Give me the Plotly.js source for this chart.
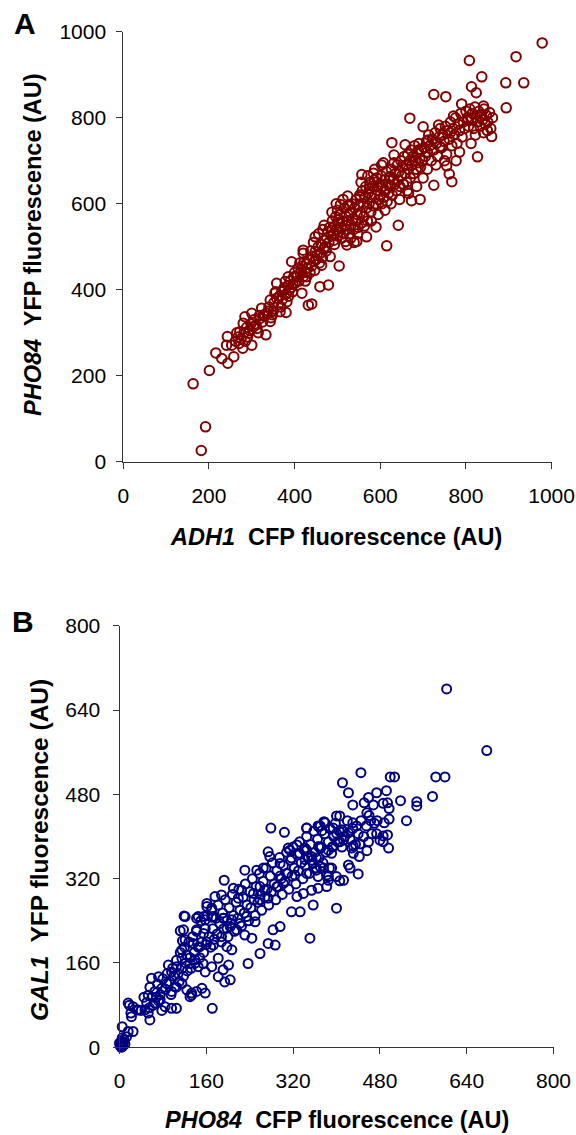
<!DOCTYPE html>
<html>
<head>
<meta charset="utf-8">
<script src="https://cdn.plot.ly/plotly-3.0.1.min.js"></script>
<style>html,body{margin:0;padding:0;background:#fff;}#chart{width:576px;height:1135px;}</style>
</head>
<body>
<div id="chart"></div>
<script>
// Panel A: ADH1 CFP (x) vs PHO84 YFP (y) (AU)
const panelA_points = [
[163,181],[201,212],[192,81],[182,26],[216,253],[230,240],[244,229],[258,244],[243,291],[241,271],[253,271],[272,302],[279,264],[284,337],[300,271],[292,299],[304,314],[319,333],[333,295],[327,341],[323,357],[343,326],[343,376],[354,392],[366,349],[380,347],[358,415],[378,419],[393,465],[401,415],[417,392],[420,485],[432,364],[428,430],[413,438],[385,430],
[627,742],[632,713],[607,695],[557,668],[584,671],[524,618],[500,585],[469,550],[448,523],[420,492],[615,502],[642,550],[479,411],[459,407],[440,367],[504,455],[483,477],[463,457],[502,562],[529,597],[553,616],[575,636],[592,640],[623,663],[590,546],[568,523],[545,512],[522,504],
[808,933],[837,895],[813,872],[824,858],[893,881],[935,881],[894,823],[725,854],[753,849],[790,832],[841,827],[669,799],[700,779],[736,783],[763,765],[771,804],[805,795],[833,802],[841,765],[860,756],[827,709],[777,700],[767,651],[761,669],[725,643],[658,737],[712,748],[693,610],[673,607],[666,624],[755,688],[739,733],[689,725],[978,974],[917,942],
[262,280],[268,290],[275,286],[282,300],[288,312],[295,305],[298,320],[305,330],[310,318],[315,300],[318,340],[325,325],[330,338],[270,275],[285,280],[290,290],[265,300],[300,345],[312,310],[280,322],
[335,345],[340,360],[345,335],[350,350],[352,370],[358,380],[362,365],[365,385],[370,395],[372,378],[375,400],[380,390],[385,410],[388,400],[390,420],[392,405],[395,395],[398,430],[400,440],[382,372],[368,360],[348,342],[338,350],[356,395],[376,405],[396,412],[386,385],
[405,430],[408,450],[410,420],[415,445],[418,455],[420,430],[422,465],[425,440],[428,460],[430,450],[434,470],[436,440],[440,455],[442,478],[445,465],[448,488],[450,470],[452,480],[455,500],[458,462],[460,485],[462,505],[465,475],[468,495],[470,515],[412,462],[425,420],[438,490],[447,445],[456,530],[466,540],[444,510],
[472,500],[475,520],[478,535],[480,510],[482,545],[485,525],[488,560],[490,530],[492,515],[494,548],[496,570],[498,540],[500,525],[502,555],[504,535],[506,575],[508,545],[510,520],[512,560],[514,530],[516,590],[518,550],[520,570],[522,540],[524,595],[526,560],[528,530],[530,580],[532,550],[534,600],[536,565],[538,540],[540,590],[487,580],[497,600],[507,598],[513,610],[519,512],[531,520],[539,510],[474,490],[493,505],
[542,560],[544,610],[546,575],[548,545],[550,595],[552,620],[554,580],[556,555],[558,630],[560,600],[562,570],[564,615],[566,640],[568,590],[570,560],[572,625],[574,600],[576,650],[578,580],[580,615],[582,640],[584,595],[586,655],[588,620],[590,600],[592,660],[594,630],[596,610],[598,645],[600,620],[602,665],[604,600],[606,640],[608,615],[610,655],[612,630],[614,675],[616,605],[618,645],[620,625],[547,530],[563,548],[579,560],[595,575],[611,585],[555,650],[571,665],[587,680],[603,690],
[622,660],[624,640],[626,680],[628,620],[630,655],[632,695],[634,645],[636,670],[638,630],[640,690],[642,655],[644,675],[646,640],[648,700],[650,665],[652,685],[654,645],[656,710],[658,670],[660,690],[662,650],[664,715],[666,680],[668,700],[670,660],[672,725],[674,690],[676,710],[678,670],[680,735],[682,700],[684,680],[686,720],[688,695],[690,740],[692,705],[694,685],[696,725],[698,700],[625,600],[645,610],[663,630],[685,640],[700,660],
[702,730],[705,710],[708,745],[710,720],[713,760],[716,735],[719,700],[722,750],[725,725],[728,765],[731,740],[734,710],[737,755],[740,775],[743,730],[746,760],[749,745],[752,780],[755,715],[758,770],[761,750],[764,790],[767,735],[770,775],[773,760],[776,800],[779,740],[782,785],[785,770],[788,810],[791,755],[794,790],[797,775],[800,815],[710,680],[730,690],[750,700],[785,720],
[803,800],[806,780],[809,820],[812,795],[815,810],[818,775],[821,825],[824,800],[827,790],[830,815],[833,780],[836,808],[839,795],[842,820],[845,785],[848,805],[851,790],[855,812],[858,775],[862,800],[850,770],[822,760],[812,740]
];
const adh1CFP = panelA_points.map(p => p[0]);
const pho84YFP = panelA_points.map(p => p[1]);

// Panel B: PHO84 CFP (x) vs GAL1 YFP (y) (AU)
const panelB_points = [
[603,680],[677,563],[445,521],[411,502],[422,483],[430,460],[499,513],[507,513],[583,513],[600,513],[577,476],[548,466],[548,458],[518,468],[529,430],[492,487],[474,483],[459,474],[451,464],[468,460],[486,463],[494,464],[497,453],[456,445],[463,430],[475,430],[488,426],[497,433],[406,439],[430,426],[437,420],[379,426],[367,419],[373,411],[345,416],[394,416],[410,413],[400,406],[412,409],[422,407],[474,405],[486,401],[494,403],[480,393],[486,390],[496,378],[459,390],[443,386],[431,382],[406,390],[413,393],[394,381],[385,374],[391,368],[367,381],[345,374],[354,362],[342,356],[456,373],[442,362],[431,368],[428,378],[422,346],[425,340],[440,329],[376,340],[387,340],[366,324],[385,324],[406,316],[413,317],[345,330],[357,349],[363,336],
[279,416],[304,408],[345,416],[366,420],[377,428],[400,439],[274,371],[277,362],[327,384],[342,378],[348,362],[363,359],[370,378],[311,378],[317,359],[231,336],[253,336],[265,340],[193,317],[210,302],[225,298],[219,283],[176,286],[188,289],[161,267],[155,248],[121,248],[296,325],[308,330],[323,327],[302,311],[290,305],[259,305],[268,298],[247,292],[259,280],[274,283],[327,286],[339,292],[354,298],[366,302],[382,305],[385,317],[400,324],[357,270],[333,257],[317,257],[400,264],[351,207],[283,223],[296,229],[274,197],[287,194],[259,178],[237,159],[216,223],[222,235],[234,248],[250,238],[231,213],[244,207],[173,248],[192,245],[204,229],[188,210],[173,194],[198,191],[207,185],[145,248],[142,223],[155,216],[136,197],[161,200],[148,191],[118,223],[121,204],[115,185],[296,349],[314,374],[332,368],[370,343],[382,327],[391,340],
[119,249],[112,221],[116,202],[171,74],[142,245],[158,242],[170,247],[191,245],[198,226],[207,242],[161,273],[170,264],[90,156],[96,143],[105,153],[115,169],[124,175],[130,159],[139,166],[145,153],[154,159],[158,143],[170,153],[182,169],[191,147],[201,156],[204,128],[194,124],[182,134],[59,131],[72,134],[56,114],[65,106],[78,112],[87,121],[96,106],[105,114],[115,121],[124,109],[133,99],[142,106],[152,112],[158,103],[133,103],[130,96],[53,99],[65,84],[75,90],[84,77],[96,74],[105,74],[16,84],[25,77],[35,71],[22,58],[53,65],[56,52],[47,71],[5,39],[16,30],[25,30],[13,20],
[2,5],[4,12],[6,2],[0,8],[8,15],[3,0],[5,18],[10,6],[1,3],[7,9],[18,80],[21,65],[32,71],
[60,95],[70,120],[75,100],[80,130],[85,110],[88,140],[92,125],[95,100],[98,150],[100,135],[102,115],[105,165],[108,140],[110,125],[112,180],[115,150],[118,135],[120,190],[122,160],[125,145],[128,200],[130,170],[132,150],[135,210],[138,180],[140,160],[142,220],[145,190],[148,170],[150,240],[152,200],[155,180],[158,225],[160,195],[162,250],[165,210],[168,190],[170,260],[172,225],[175,205],[178,245],[180,215],[182,270],[185,235],[188,200],[190,255],[192,225],[195,280],[198,240],[200,210],[202,265],[205,235],[208,290],[210,250],[212,220],[215,275],[218,245],[220,300],[222,260],[225,230],[228,285],[230,255],[232,310],[235,270],[238,240],[240,295],[242,265],[245,320],[248,280],[250,250],[252,305],[255,275],[258,330],[260,290],[262,260],[265,315],[268,285],[270,340],[272,300],[275,270],[278,325],[280,295],[282,350],[285,310],[288,280],[290,335],[292,305],[295,360],[298,320],[300,290],[302,345],[305,315],[308,370],[310,330],[312,300],[315,355],[318,325],[320,380],[322,340],[325,310],[328,365],[330,335],[332,390],[335,350],[338,320],[340,375],[342,345],[345,400],[348,360],[350,330],[352,385],[355,355],[358,410],[360,370],[362,340],[365,395],[368,360],[370,420],[372,380],[375,350],[378,405],[380,370],[385,390],[388,415],[392,380],[395,400],[398,425],[402,390],[405,410],[410,380],[415,400],[420,430],[425,395],[430,415],[435,385],[440,405],[445,430],[450,400],[455,420],[460,440],[465,405],[470,425],
[40,70],[45,95],[50,85],[55,75],[62,80],[68,95],[72,88],[78,70]
];
const pho84CFP = panelB_points.map(p => p[0]);
const gal1YFP = panelB_points.map(p => p[1]);

const ticksA = [0, 200, 400, 600, 800, 1000];
const ticksB = [0, 160, 320, 480, 640, 800];

const W = 576, H = 1135;
const fx = p => p / W;
const fy = p => 1 - p / H;
const FONT = 'Arial, "Liberation Sans", sans-serif';

const axisBase = {
  showgrid: false, zeroline: false, showline: true, linecolor: '#333', linewidth: 1,
  ticks: 'outside', ticklen: 6, tickwidth: 1, tickcolor: '#333',
  tickfont: {family: FONT, size: 21, color: '#000'}, tickmode: 'array', fixedrange: true
};

const traces = [
  {x: adh1CFP, y: pho84YFP, xaxis: 'x', yaxis: 'y', type: 'scatter', mode: 'markers', cliponaxis: false,
   marker: {symbol: 'circle-open', size: 9.5, color: '#800000', line: {width: 2, color: '#800000'}}, hoverinfo: 'x+y'},
  {x: pho84CFP, y: gal1YFP, xaxis: 'x2', yaxis: 'y2', type: 'scatter', mode: 'markers', cliponaxis: false,
   marker: {symbol: 'circle-open', size: 9, color: '#000080', line: {width: 2, color: '#000080'}}, hoverinfo: 'x+y'}
];

const layout = {
  width: W, height: H, margin: {l: 0, r: 0, t: 0, b: 0}, showlegend: false,
  paper_bgcolor: '#fff', plot_bgcolor: '#fff',
  xaxis: Object.assign({}, axisBase, {domain: [fx(123.3), fx(551.6)], range: [0, 1000], tickvals: ticksA, ticklabelstandoff: 9, anchor: 'y'}),
  yaxis: Object.assign({}, axisBase, {domain: [fy(461.7), fy(31.7)], range: [0, 1000], tickvals: ticksA, ticklabelstandoff: 6, anchor: 'x'}),
  xaxis2: Object.assign({}, axisBase, {domain: [fx(119.5), fx(553.5)], range: [0, 800], tickvals: ticksB, ticklabelstandoff: 8, anchor: 'y2'}),
  yaxis2: Object.assign({}, axisBase, {domain: [fy(1047.3), fy(625.7)], range: [0, 800], tickvals: ticksB, ticklabelstandoff: 8, anchor: 'x2'}),
  annotations: [
    {text: '<b>A</b>', x: fx(25), y: fy(24), xref: 'paper', yref: 'paper', showarrow: false, xanchor: 'center', yanchor: 'middle', font: {family: FONT, size: 30, color: '#000'}},
    {text: '<b>B</b>', x: fx(23), y: fy(621), xref: 'paper', yref: 'paper', showarrow: false, xanchor: 'center', yanchor: 'middle', font: {family: FONT, size: 30, color: '#000'}},
    {text: '<b><i>ADH1</i>\u00a0 CFP fluorescence (AU)</b>', x: fx(336), y: fy(537), xref: 'paper', yref: 'paper', showarrow: false, xanchor: 'center', yanchor: 'middle', font: {family: FONT, size: 23.5, color: '#000'}},
    {text: '<b><i>PHO84</i>\u00a0 YFP fluorescence (AU)</b>', x: fx(33), y: fy(245), xref: 'paper', yref: 'paper', showarrow: false, textangle: -90, xanchor: 'center', yanchor: 'middle', font: {family: FONT, size: 23.5, color: '#000'}},
    {text: '<b><i>PHO84</i>\u00a0 CFP fluorescence (AU)</b>', x: fx(337), y: fy(1120), xref: 'paper', yref: 'paper', showarrow: false, xanchor: 'center', yanchor: 'middle', font: {family: FONT, size: 23.5, color: '#000'}},
    {text: '<b><i>GAL1</i>\u00a0 YFP fluorescence (AU)</b>', x: fx(39), y: fy(850), xref: 'paper', yref: 'paper', showarrow: false, textangle: -90, xanchor: 'center', yanchor: 'middle', font: {family: FONT, size: 24.5, color: '#000'}}
  ]
};

Plotly.newPlot('chart', traces, layout, {displayModeBar: false, staticPlot: true});
</script>
</body>
</html>
